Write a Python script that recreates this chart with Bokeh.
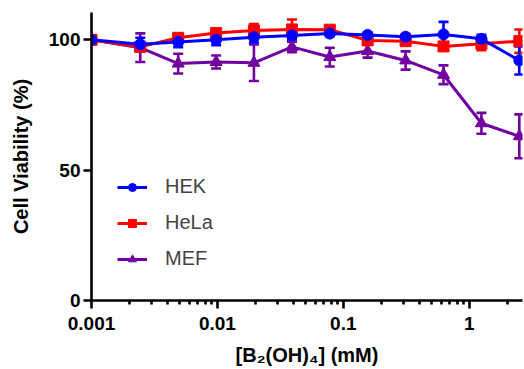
from bokeh.plotting import figure
from bokeh.models import (Range1d, FixedTicker, Whisker, TeeHead, ColumnDataSource,
                          Legend, LegendItem)
from bokeh.embed import file_html
from bokeh.resources import INLINE

conc = [0.001, 0.00244, 0.00488, 0.00977, 0.0195, 0.0391, 0.0781, 0.156, 0.3125, 0.625, 1.25, 2.5]
hek = [100, 98.3, 99.2, 100.0, 101.0, 101.7, 102.4, 101.9, 101.2, 102.1, 100.4, 92.1]
hek_err = [0, 2.5, 2.0, 2.0, 2.0, 1.5, 1.0, 1.0, 1.0, 4.8, 1.5, 5.4]
hela = [100, 97.3, 100.8, 102.6, 103.6, 104.0, 103.9, 99.8, 99.5, 97.5, 98.5, 99.5]
hela_err = [0, 1.5, 1.5, 1.5, 2.5, 3.8, 1.0, 1.0, 1.0, 1.5, 2.5, 4.5]
mef = [100, 97.0, 90.9, 91.5, 91.2, 97.3, 93.4, 95.7, 92.1, 86.6, 68.0, 63.0]
mef_err = [0, 5.5, 3.8, 2.5, 7.0, 2.0, 3.6, 2.5, 3.5, 3.6, 4.0, 8.4]

series = [
    ("MEF", mef, mef_err, "#7000a0", "triangle", 12),
    ("HeLa", hela, hela_err, "#ff0000", "square", 11),
    ("HEK", hek, hek_err, "#0000ff", "circle", 11),
]

x_ticks = [0.001, 0.01, 0.1, 1]
x_tick_labels = ["0.001", "0.01", "0.1", "1"]
y_ticks = [0, 50, 100]

FONT = "Liberation Sans"

p = figure(width=524, height=369, x_axis_type="log",
           x_range=Range1d(0.001, 2.65), y_range=Range1d(0, 110.5),
           output_backend="svg", toolbar_location=None,
           min_border_left=91, min_border_right=2, min_border_top=12, min_border_bottom=69)
p.outline_line_color = None
p.grid.visible = False
p.background_fill_color = "white"
p.border_fill_color = "white"

minor = []
for d in [0.001, 0.01, 0.1, 1]:
    for k in range(2, 10):
        minor.append(d * k)
p.xaxis.ticker = FixedTicker(ticks=x_ticks, minor_ticks=minor)
p.xaxis.major_label_overrides = {t: l for t, l in zip(x_ticks, x_tick_labels)}
p.yaxis.ticker = FixedTicker(ticks=y_ticks, minor_ticks=[])

for ax in [p.xaxis[0], p.yaxis[0]]:
    ax.axis_line_width = 2.6
    ax.axis_line_color = "black"
    ax.major_tick_line_width = 2.6
    ax.minor_tick_line_width = 2.6
    ax.major_tick_out = 8
    ax.major_tick_in = 0
    ax.minor_tick_out = 4
    ax.minor_tick_in = 0
    ax.major_label_text_font = FONT
    ax.major_label_text_font_style = "bold"
    ax.major_label_text_font_size = "19px"
    ax.major_label_text_color = "black"
    ax.axis_label_text_font = FONT
    ax.axis_label_text_font_style = "bold"
    ax.axis_label_text_font_size = "20px"
    ax.axis_label_text_color = "black"

p.xaxis.major_label_standoff = 8
p.yaxis.major_label_standoff = 3
p.xaxis.axis_label = "[B₂(OH)₄] (mM)"
p.yaxis.axis_label = "Cell Viability (%)"
p.xaxis.axis_label_standoff = 11
p.yaxis.axis_label_standoff = 14

items = {}
for name, vals, errs, color, marker, msize in series:
    src = ColumnDataSource(dict(x=conc, y=vals,
                                lo=[v - e for v, e in zip(vals, errs)],
                                hi=[v + e for v, e in zip(vals, errs)]))
    w = Whisker(base="x", lower="lo", upper="hi", source=src, dimension="height",
                line_color=color, line_width=2.6,
                upper_head=TeeHead(size=10, line_color=color, line_width=2.6),
                lower_head=TeeHead(size=10, line_color=color, line_width=2.6))
    p.add_layout(w)
    ln = p.line("x", "y", source=src, line_color=color, line_width=3)
    sc = p.scatter("x", "y", source=src, marker=marker, size=msize,
                   fill_color=color, line_color=color)
    items[name] = [ln, sc]

legend = Legend(items=[LegendItem(label=n, renderers=items[n]) for n in ["HEK", "HeLa", "MEF"]],
                location=(26, 30), padding=0, margin=0, spacing=13,
                glyph_width=30, glyph_height=20, label_height=20, label_standoff=18,
                label_text_font=FONT, label_text_font_size="20px",
                background_fill_alpha=0, border_line_color=None)
p.add_layout(legend)

open("out.html", "w").write(file_html(p, INLINE))
